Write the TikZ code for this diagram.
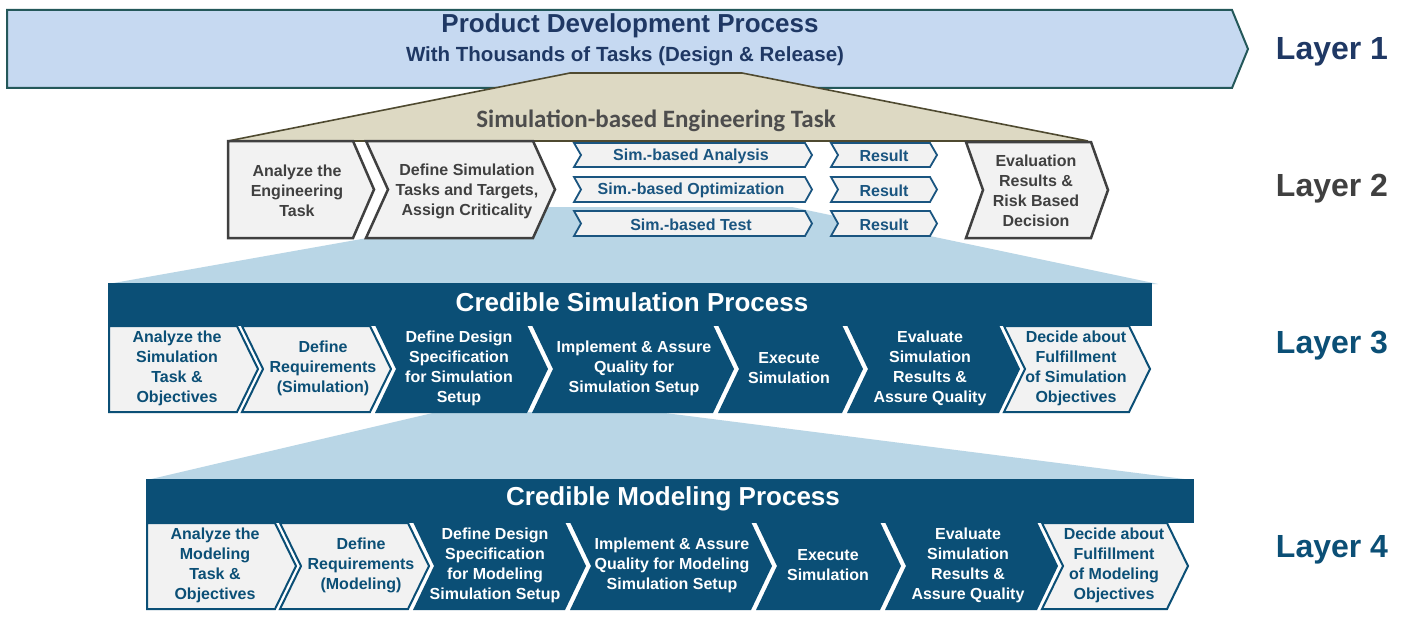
\documentclass[tikz,border=0pt]{standalone}
\usepackage{fontspec}
\setmainfont{Liberation Sans}
\newfontfamily\calfont{Carlito}
\definecolor{lonefill}{HTML}{C6D9F1}
\definecolor{lonedraw}{HTML}{24585A}
\definecolor{lonetext}{HTML}{1F3864}
\definecolor{khaki}{HTML}{DDD9C3}
\definecolor{khakidraw}{HTML}{4F4A30}
\definecolor{khakitext}{HTML}{4D4D4D}
\definecolor{boxfill}{HTML}{F2F2F2}
\definecolor{boxdraw}{HTML}{404040}
\definecolor{navy}{HTML}{0B4F76}
\definecolor{simblue}{HTML}{1A5580}
\definecolor{wedgecol}{HTML}{B9D6E6}
\newcommand\mypent[5]{(#1,#3) -- (#2,#3) -- ({#2+#5},{(#3+#4)/2}) -- (#2,#4) -- (#1,#4) -- cycle}
\newcommand\mychev[5]{(#1,#3) -- (#2,#3) -- ({#2+#5},{(#3+#4)/2}) -- (#2,#4) -- (#1,#4) -- ({#1+#5},{(#3+#4)/2}) -- cycle}
\begin{document}
\begin{tikzpicture}[x=1pt,y=-1pt,
  lone/.style={fill=lonefill, draw=lonedraw, line width=2pt, line join=miter},
  trap/.style={fill=khaki, draw=khakidraw, line width=1.6pt, line join=miter},
  gbox/.style={fill=boxfill, draw=boxdraw, line width=2.5pt, line join=miter},
  sbox/.style={fill=boxfill, draw=simblue, line width=1.8pt, line join=miter},
  lchev/.style={fill=boxfill, draw=navy, line width=2pt, line join=miter},
  dchev/.style={fill=navy},
  txt/.style={font=\fontsize{16}{20}\selectfont\bfseries, align=center, inner sep=0pt},
  gtxt/.style={txt, text=boxdraw},
  btxt/.style={txt, text=simblue},
  ltxt/.style={txt, text=navy},
  wtxt/.style={txt, text=white},
  headtxt/.style={font=\fontsize{26}{30}\selectfont\bfseries, text=white, inner sep=0pt},
  layerlbl/.style={font=\fontsize{32}{36}\selectfont\bfseries, inner sep=0pt},
]
\useasboundingbox (0,0) rectangle (1404,623);
\fill[white] (0,0) rectangle (1404,623);

% Layer 1
\draw[lone] \mypent{7}{1232}{10}{88}{16};
% Trapezoid layer 2 title
\draw[trap] (570,73) -- (742,73) -- (1088,141) -- (228,141) -- cycle;
% wedges
\fill[wedgecol] (542,207) -- (792,207) -- (1158,284) -- (108,284) -- cycle;
\fill[wedgecol] (437,412) -- (657,412) -- (1192,480) -- (147,480) -- cycle;

% Layer 2 boxes
\draw[gbox] \mypent{228}{353}{141}{238}{21};
\draw[gbox] \mychev{366}{533}{141}{238}{22};
\draw[sbox] \mychev{574}{805}{143}{167}{7};
\draw[sbox] \mychev{574}{805}{177}{202}{7};
\draw[sbox] \mychev{574}{805}{211}{236}{7};
\draw[sbox] \mychev{831}{930}{143}{167}{7};
\draw[sbox] \mychev{831}{930}{177}{202}{7};
\draw[sbox] \mychev{831}{930}{211}{236}{7};
\draw[gbox] \mychev{966}{1091}{142}{238}{17};

% Layer 3
\fill[navy] (108,283) rectangle (1152,326);
\draw[lchev] \mypent{109}{237}{326}{412}{21};
\draw[lchev] \mychev{242}{370}{326}{412}{21};
\fill[dchev] \mychev{375}{527}{325}{413}{21};
\fill[dchev] \mychev{532}{713}{325}{413}{21};
\fill[dchev] \mychev{718}{842}{325}{413}{21};
\fill[dchev] \mychev{847}{999}{325}{413}{21};
\draw[lchev] \mychev{1004}{1129}{326}{412}{21};

% Layer 4
\begin{scope}[shift={(38,197)}]
\fill[navy] (108,282) rectangle (1156,326);
\draw[lchev] \mypent{109}{237}{326}{412}{21};
\draw[lchev] \mychev{242}{370}{326}{412}{21};
\fill[dchev] \mychev{375}{527}{325}{413}{21};
\fill[dchev] \mychev{532}{713}{325}{413}{21};
\fill[dchev] \mychev{718}{842}{325}{413}{21};
\fill[dchev] \mychev{847}{999}{325}{413}{21};
\draw[lchev] \mychev{1004}{1129}{326}{412}{21};
\end{scope}

% Texts layer 1
\node[font=\fontsize{26}{30}\selectfont\bfseries, text=lonetext, inner sep=0pt] (l1title) at (630,26) {Product Development Process};
\node[font=\fontsize{20.5}{24}\selectfont\bfseries, text=lonetext, inner sep=0pt] (l1sub) at (625,56) {With Thousands of Tasks (Design \& Release)};
\node[font=\fontsize{25}{30}\calfont\bfseries, text=khakitext, inner sep=0pt] (l2title) at (656,121) {Simulation-based Engineering Task};

% Texts layer 2
\node[gtxt] (aet) at (297,191) {Analyze the\\Engineering\\Task};
\node[gtxt] (dst) at (467,191) {Define Simulation\\Tasks and Targets,\\Assign Criticality};
\node[btxt] (sba) at (691,156) {Sim.-based Analysis};
\node[btxt] (sbo) at (691,190.5) {Sim.-based Optimization};
\node[btxt] (sbt) at (691,224.5) {Sim.-based Test};
\node[btxt] (r1) at (884,156) {Result};
\node[btxt] (r2) at (884,190.5) {Result};
\node[btxt] (r3) at (884,224.5) {Result};
\node[gtxt] (eval) at (1036,191) {Evaluation\\Results \&\\Risk Based\\Decision};

% Texts layer 3
\node[headtxt] (csp) at (632,302) {Credible Simulation Process};
\node[ltxt] (s1) at (177,368) {Analyze the\\Simulation\\Task \&\\Objectives};
\node[ltxt] (s2) at (323,368) {Define\\Requirements\\(Simulation)};
\node[wtxt] (s3) at (459,368) {Define Design\\Specification\\for Simulation\\Setup};
\node[wtxt] (s4) at (634,368) {Implement \& Assure\\Quality for\\Simulation Setup};
\node[wtxt] (s5) at (789,368) {Execute\\Simulation};
\node[wtxt] (s6) at (930,368) {Evaluate\\Simulation\\Results \&\\Assure Quality};
\node[ltxt] (s7) at (1076,368) {Decide about\\Fulfillment\\of Simulation\\Objectives};

% Texts layer 4
\node[headtxt] (cmp) at (673,499) {Credible Modeling Process};
\node[ltxt] (m1) at (215,565) {Analyze the\\Modeling\\Task \&\\Objectives};
\node[ltxt] (m2) at (361,565) {Define\\Requirements\\(Modeling)};
\node[wtxt] (m3) at (495,565) {Define Design\\Specification\\for Modeling\\Simulation Setup};
\node[wtxt] (m4) at (672,565) {Implement \& Assure\\Quality for Modeling\\Simulation Setup};
\node[wtxt] (m5) at (828,565) {Execute\\Simulation};
\node[wtxt] (m6) at (968,565) {Evaluate\\Simulation\\Results \&\\Assure Quality};
\node[ltxt] (m7) at (1114,565) {Decide about\\Fulfillment\\of Modeling\\Objectives};

% Layer labels
\node[layerlbl, text=lonetext] (lay1) at (1332,52) {Layer 1};
\node[layerlbl, text=boxdraw] (lay2) at (1332,189) {Layer 2};
\node[layerlbl, text=navy] (lay3) at (1332,346) {Layer 3};
\node[layerlbl, text=navy] (lay4) at (1332,550) {Layer 4};
\end{tikzpicture}
\end{document}
